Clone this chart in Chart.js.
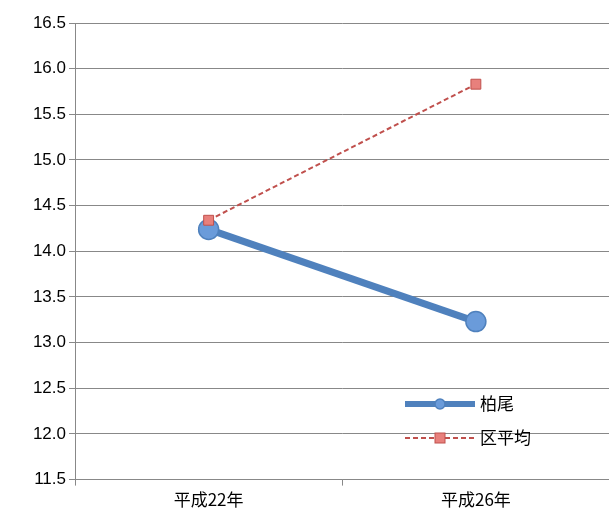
<!DOCTYPE html>
<html><head><meta charset="utf-8">
<script src="https://cdn.jsdelivr.net/npm/chart.js@4/dist/chart.umd.min.js"></script>
<style>body{margin:0;background:#fff;overflow:hidden}#wrap{width:621px;height:518px}</style>
</head><body><div id="wrap"><canvas id="c"></canvas></div>
<script>
const labels = ['平成22年', '平成26年'];
const kashio = [14.24, 13.23];
const kuAvg = [14.34, 15.83];

const legendBox = {
  id: 'legendBox',
  afterDraw(chart) {
    const ctx = chart.ctx;
    ctx.save();
    ctx.font = '17px "Noto Sans CJK JP"';
    ctx.textBaseline = 'middle';
    ctx.strokeStyle = '#4F81BD'; ctx.lineWidth = 6;
    ctx.beginPath(); ctx.moveTo(405, 404); ctx.lineTo(475, 404); ctx.stroke();
    ctx.fillStyle = '#6A9BDA'; ctx.strokeStyle = '#4F81BD'; ctx.lineWidth = 1.5;
    ctx.beginPath(); ctx.arc(440, 404, 5, 0, Math.PI * 2); ctx.fill(); ctx.stroke();
    ctx.fillStyle = '#000'; ctx.fillText('柏尾', 480, 404);
    ctx.strokeStyle = '#C0504D'; ctx.lineWidth = 2; ctx.setLineDash([5, 3]);
    ctx.beginPath(); ctx.moveTo(405, 438); ctx.lineTo(475, 438); ctx.stroke();
    ctx.setLineDash([]);
    ctx.fillStyle = '#E8807C'; ctx.strokeStyle = '#C0504D'; ctx.lineWidth = 1;
    ctx.fillRect(435, 433, 10, 10); ctx.strokeRect(435, 433, 10, 10);
    ctx.fillStyle = '#000'; ctx.fillText('区平均', 480, 438);
    ctx.restore();
  }
};

new Chart(document.getElementById('c'), {
  type: 'line',
  data: {
    labels: labels,
    datasets: [{
      label: '柏尾', data: kashio, order: 2,
      borderColor: '#4F81BD', borderWidth: 7,
      pointRadius: 10, pointBackgroundColor: '#6A9BDA', pointBorderColor: '#4F81BD', pointBorderWidth: 1.5
    }, {
      label: '区平均', data: kuAvg, order: 1,
      borderColor: '#C0504D', borderWidth: 2, borderDash: [5, 3],
      pointStyle: 'rect', pointRadius: 7, pointBackgroundColor: '#E8807C', pointBorderColor: '#C0504D', pointBorderWidth: 1
    }]
  },
  options: {
    responsive: true, maintainAspectRatio: false, animation: false,
    layout: { padding: { top: 23, right: 0, left: 0, bottom: 4 } },
    plugins: { legend: { display: false }, tooltip: { enabled: false } },
    scales: {
      x: {
        offset: true,
        grid: { offset: true, drawOnChartArea: false, color: '#888', tickLength: 6 },
        border: { color: '#888' },
        ticks: { color: '#000', font: { size: 17, family: '"Noto Sans CJK JP"' }, padding: 4 }
      },
      y: {
        min: 11.5, max: 16.5,
        afterFit: s => { s.width = 75; },
        grid: { color: '#888', tickLength: 6 },
        border: { color: '#888' },
        ticks: { stepSize: 0.5, color: '#000', font: { size: 17, family: 'Liberation Sans' },
          callback: v => v.toFixed(1) }
      }
    }
  },
  plugins: [legendBox]
});
</script></body></html>
